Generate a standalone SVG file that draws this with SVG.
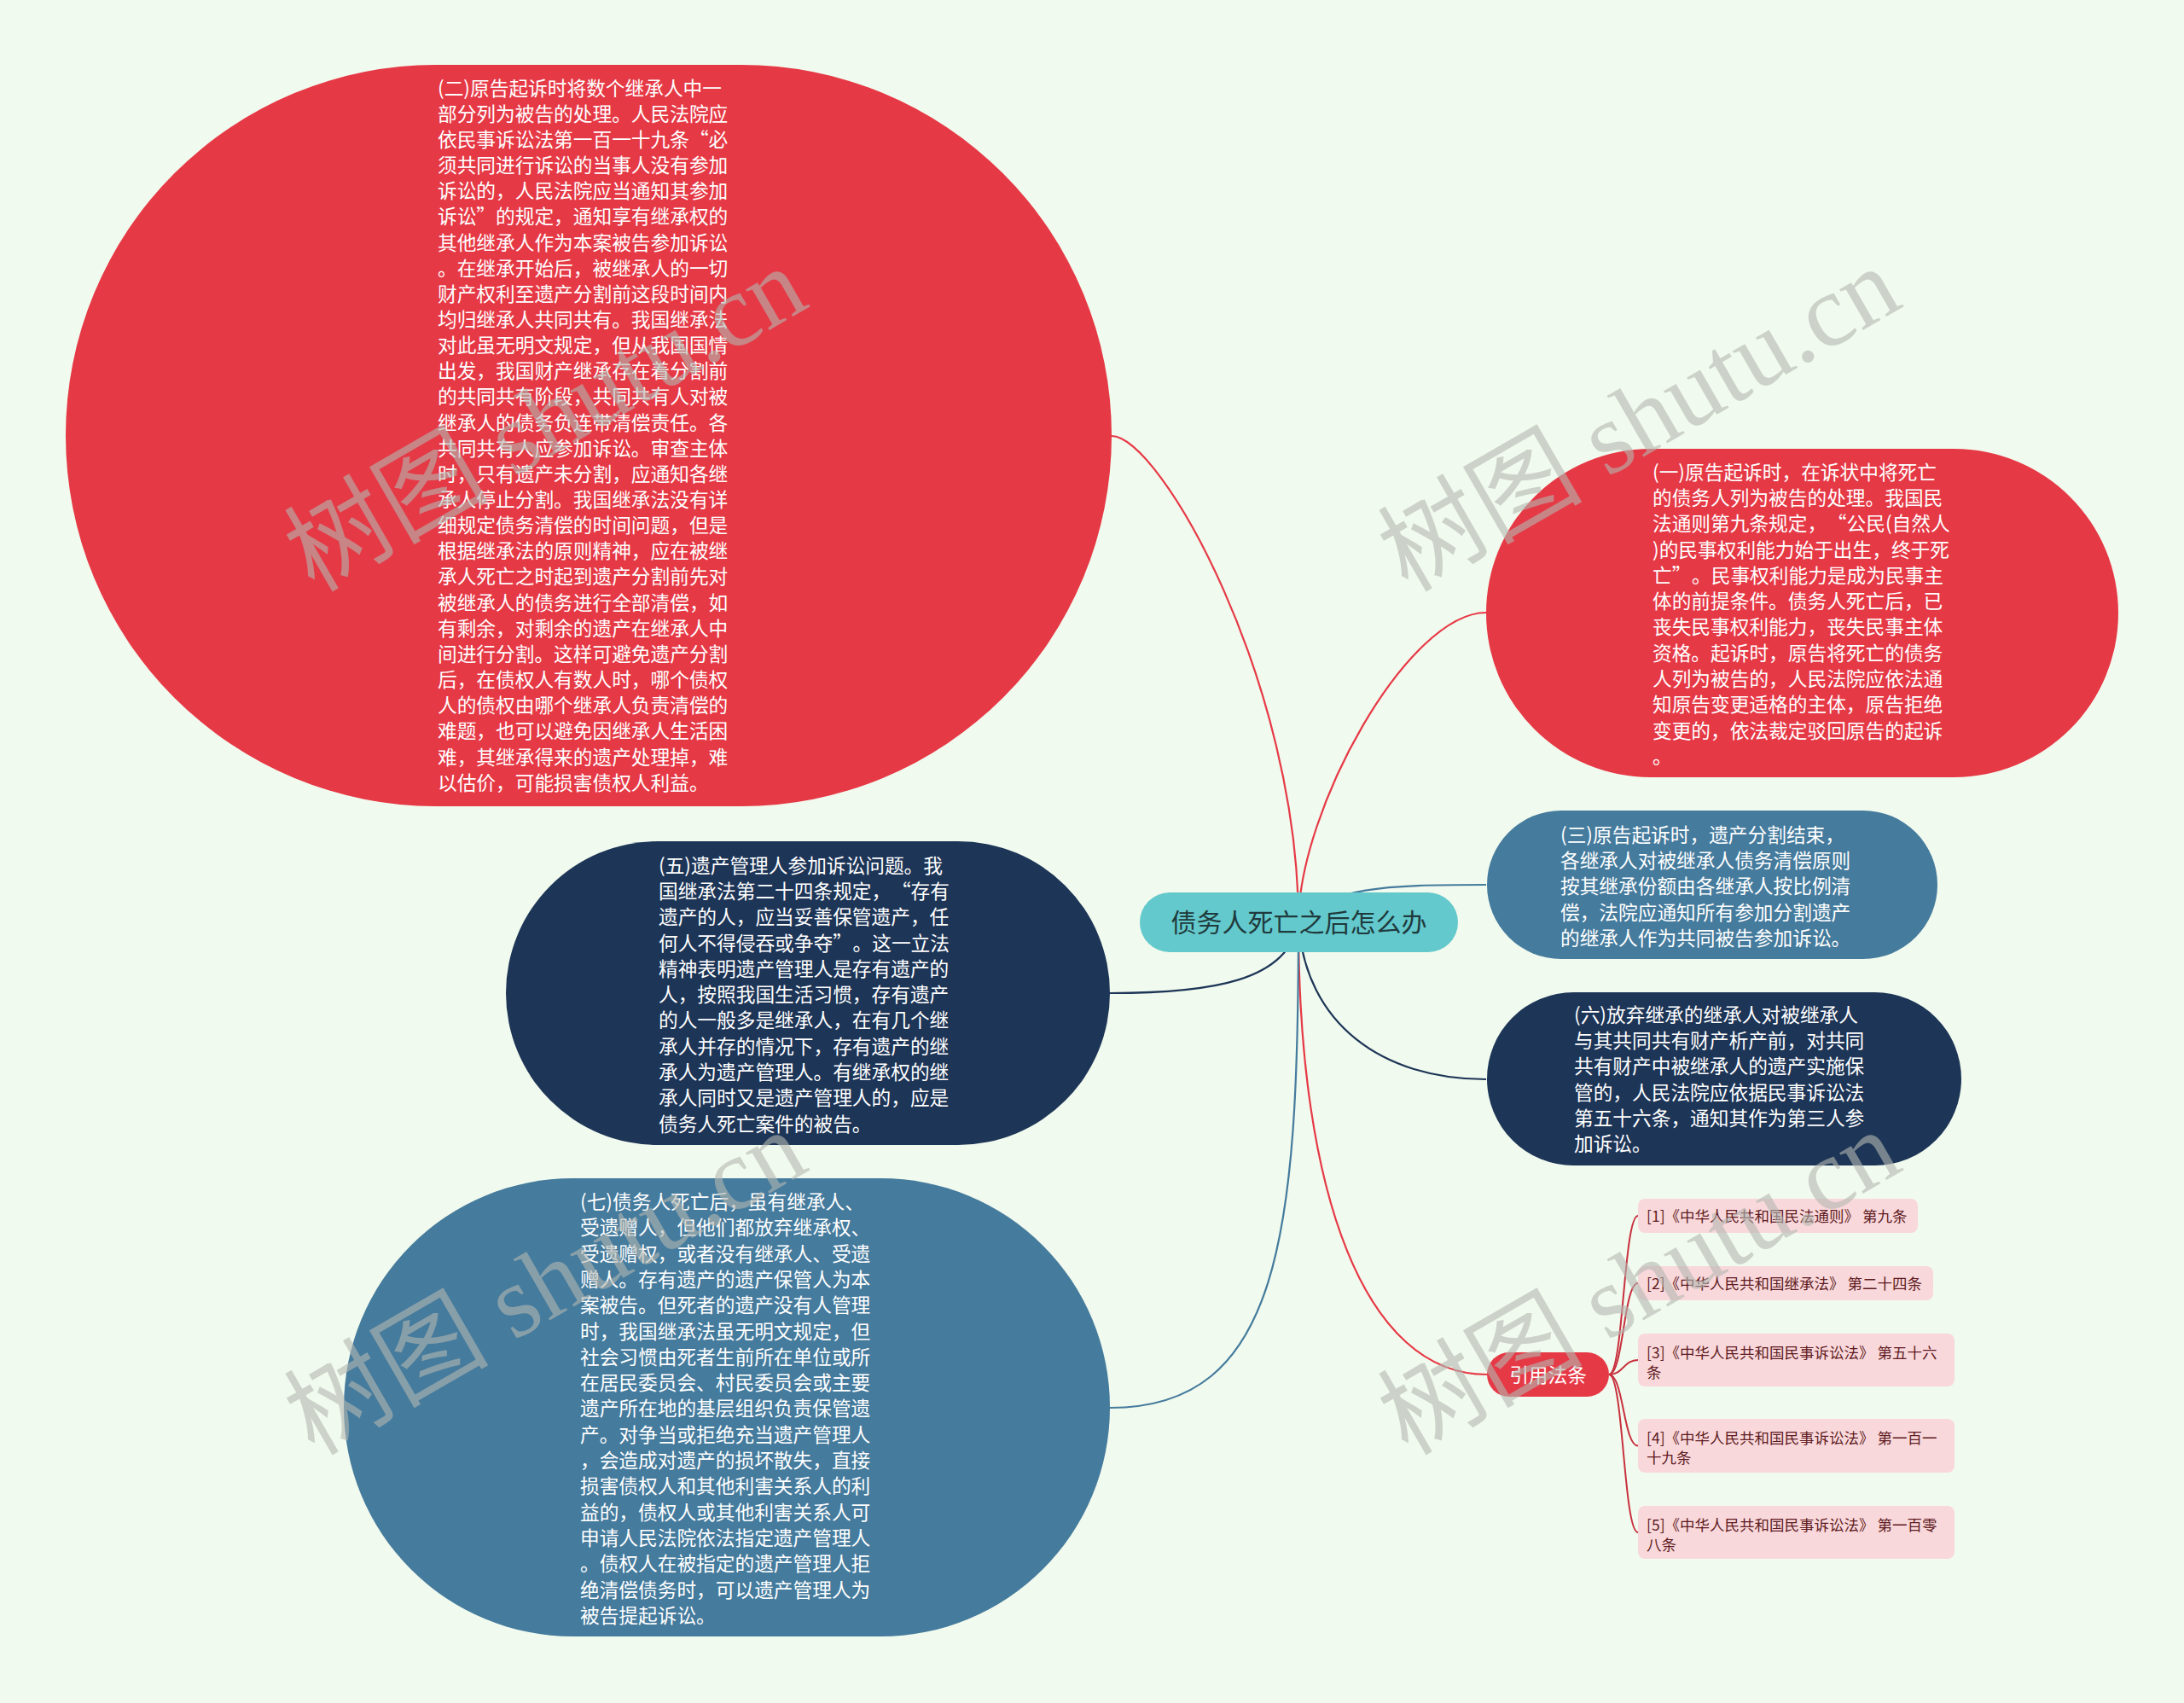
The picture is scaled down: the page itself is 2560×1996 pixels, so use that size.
<svg xmlns="http://www.w3.org/2000/svg" width="2560" height="1996" viewBox="0 0 2560 1996">
<style>
.bg{fill:#F1FAEE}
.red{fill:#E63946}
.navy{fill:#1D3557}
.blue{fill:#457B9D}
.root{fill:#63C9CC}
.ref{fill:#F9D8DB}
.t{font-family:"Noto Sans CJK SC","Noto Sans",sans-serif;font-size:22.7px;fill:#FFFFFF}
.rt{font-family:"Noto Sans CJK SC","Noto Sans",sans-serif;font-size:30px;fill:#1F3A3D;text-anchor:middle}
.ft{font-family:"Noto Sans CJK SC","Noto Sans",sans-serif;font-size:17.5px;fill:#5E1B22}
.c{fill:none;stroke-width:2.2}
.cr{stroke:#E63946}
.cn{stroke:#1D3557}
.cb{stroke:#457B9D}
.cf{fill:none;stroke:#C8303E;stroke-width:2}
.wm{font-family:"Liberation Serif","Noto Sans CJK SC",serif;font-size:120px;fill:#B4B8B2;opacity:0.6}
</style>
<rect class="bg" x="0" y="0" width="2560" height="1996"/>
<g id="connectors">
<path class="c cr" d="M1522,1081 C1522,800 1360,511 1303,511"/>
<path class="c cr" d="M1522,1081 C1522,950 1650,718 1742,718"/>
<path class="c cb" d="M1522,1081 C1560,1040 1620,1037 1742,1037"/>
<path class="c cn" d="M1522,1081 C1530,1200 1620,1265 1742,1265"/>
<path class="c cr" d="M1522,1081 C1522,1400 1600,1611 1743,1611"/>
<path class="c cn" d="M1522,1081 C1510,1150 1420,1164 1301,1164"/>
<path class="c cb" d="M1522,1081 C1522,1450 1500,1650 1301,1650"/>
<path class="cf" d="M1886,1611 C1903,1611 1903,1425 1920,1425"/>
<path class="cf" d="M1886,1611 C1903,1611 1903,1504 1920,1504"/>
<path class="cf" d="M1886,1611 C1903,1611 1903,1594 1920,1594"/>
<path class="cf" d="M1886,1611 C1903,1611 1903,1694.5 1920,1694.5"/>
<path class="cf" d="M1886,1611 C1903,1611 1903,1796 1920,1796"/>
</g>
<g id="root">
<rect class="root" x="1336" y="1046" width="373" height="70" rx="35"/>
<text class="rt" x="1522.5" y="1092">债务人死亡之后怎么办</text>
</g>
<g id="node2">
<rect class="red" x="77" y="76" width="1226" height="869" rx="434.5"/>
<text class="t" y="111.6">
<tspan x="513">(二)原告起诉时将数个继承人中一</tspan>
<tspan x="513" dy="30.15">部分列为被告的处理。人民法院应</tspan>
<tspan x="513" dy="30.15">依民事诉讼法第一百一十九条“必</tspan>
<tspan x="513" dy="30.15">须共同进行诉讼的当事人没有参加</tspan>
<tspan x="513" dy="30.15">诉讼的，人民法院应当通知其参加</tspan>
<tspan x="513" dy="30.15">诉讼”的规定，通知享有继承权的</tspan>
<tspan x="513" dy="30.15">其他继承人作为本案被告参加诉讼</tspan>
<tspan x="513" dy="30.15">。在继承开始后，被继承人的一切</tspan>
<tspan x="513" dy="30.15">财产权利至遗产分割前这段时间内</tspan>
<tspan x="513" dy="30.15">均归继承人共同共有。我国继承法</tspan>
<tspan x="513" dy="30.15">对此虽无明文规定，但从我国国情</tspan>
<tspan x="513" dy="30.15">出发，我国财产继承存在着分割前</tspan>
<tspan x="513" dy="30.15">的共同共有阶段，共同共有人对被</tspan>
<tspan x="513" dy="30.15">继承人的债务负连带清偿责任。各</tspan>
<tspan x="513" dy="30.15">共同共有人应参加诉讼。审查主体</tspan>
<tspan x="513" dy="30.15">时，只有遗产未分割，应通知各继</tspan>
<tspan x="513" dy="30.15">承人停止分割。我国继承法没有详</tspan>
<tspan x="513" dy="30.15">细规定债务清偿的时间问题，但是</tspan>
<tspan x="513" dy="30.15">根据继承法的原则精神，应在被继</tspan>
<tspan x="513" dy="30.15">承人死亡之时起到遗产分割前先对</tspan>
<tspan x="513" dy="30.15">被继承人的债务进行全部清偿，如</tspan>
<tspan x="513" dy="30.15">有剩余，对剩余的遗产在继承人中</tspan>
<tspan x="513" dy="30.15">间进行分割。这样可避免遗产分割</tspan>
<tspan x="513" dy="30.15">后，在债权人有数人时，哪个债权</tspan>
<tspan x="513" dy="30.15">人的债权由哪个继承人负责清偿的</tspan>
<tspan x="513" dy="30.15">难题，也可以避免因继承人生活困</tspan>
<tspan x="513" dy="30.15">难，其继承得来的遗产处理掉，难</tspan>
<tspan x="513" dy="30.15">以估价，可能损害债权人利益。</tspan>
</text>
</g>
<g id="node1">
<rect class="red" x="1742" y="526" width="741" height="385" rx="192.5"/>
<text class="t" y="561.6">
<tspan x="1937">(一)原告起诉时，在诉状中将死亡</tspan>
<tspan x="1937" dy="30.3">的债务人列为被告的处理。我国民</tspan>
<tspan x="1937" dy="30.3">法通则第九条规定，<tspan dx="12">“公民(自然人</tspan></tspan>
<tspan x="1937" dy="30.3">)的民事权利能力始于出生，终于死</tspan>
<tspan x="1937" dy="30.3">亡”<tspan dx="12">。民事权利能力是成为民事主</tspan></tspan>
<tspan x="1937" dy="30.3">体的前提条件。债务人死亡后，已</tspan>
<tspan x="1937" dy="30.3">丧失民事权利能力，丧失民事主体</tspan>
<tspan x="1937" dy="30.3">资格。起诉时，原告将死亡的债务</tspan>
<tspan x="1937" dy="30.3">人列为被告的，人民法院应依法通</tspan>
<tspan x="1937" dy="30.3">知原告变更适格的主体，原告拒绝</tspan>
<tspan x="1937" dy="30.3">变更的，依法裁定驳回原告的起诉</tspan>
<tspan x="1937" dy="30.3">。</tspan>
</text>
</g>
<g id="node3">
<rect class="blue" x="1743" y="950" width="528" height="174" rx="87"/>
<text class="t" y="986.6">
<tspan x="1829">(三)原告起诉时，遗产分割结束，</tspan>
<tspan x="1829" dy="30.3">各继承人对被继承人债务清偿原则</tspan>
<tspan x="1829" dy="30.3">按其继承份额由各继承人按比例清</tspan>
<tspan x="1829" dy="30.3">偿，法院应通知所有参加分割遗产</tspan>
<tspan x="1829" dy="30.3">的继承人作为共同被告参加诉讼。</tspan>
</text>
</g>
<g id="node6">
<rect class="navy" x="1743" y="1163" width="556" height="203" rx="101.5"/>
<text class="t" y="1197.6">
<tspan x="1845">(六)放弃继承的继承人对被继承人</tspan>
<tspan x="1845" dy="30.3">与其共同共有财产析产前，对共同</tspan>
<tspan x="1845" dy="30.3">共有财产中被继承人的遗产实施保</tspan>
<tspan x="1845" dy="30.3">管的，人民法院应依据民事诉讼法</tspan>
<tspan x="1845" dy="30.3">第五十六条，通知其作为第三人参</tspan>
<tspan x="1845" dy="30.3">加诉讼。</tspan>
</text>
</g>
<g id="node5">
<rect class="navy" x="593" y="986" width="708" height="356" rx="178"/>
<text class="t" y="1022.6">
<tspan x="772">(五)遗产管理人参加诉讼问题。我</tspan>
<tspan x="772" dy="30.3">国继承法第二十四条规定，<tspan dx="12">“存有</tspan></tspan>
<tspan x="772" dy="30.3">遗产的人，应当妥善保管遗产，任</tspan>
<tspan x="772" dy="30.3">何人不得侵吞或争夺”<tspan dx="12">。这一立法</tspan></tspan>
<tspan x="772" dy="30.3">精神表明遗产管理人是存有遗产的</tspan>
<tspan x="772" dy="30.3">人，按照我国生活习惯，存有遗产</tspan>
<tspan x="772" dy="30.3">的人一般多是继承人，在有几个继</tspan>
<tspan x="772" dy="30.3">承人并存的情况下，存有遗产的继</tspan>
<tspan x="772" dy="30.3">承人为遗产管理人。有继承权的继</tspan>
<tspan x="772" dy="30.3">承人同时又是遗产管理人的，应是</tspan>
<tspan x="772" dy="30.3">债务人死亡案件的被告。</tspan>
</text>
</g>
<g id="node7">
<rect class="blue" x="403" y="1381" width="898" height="537" rx="268.5"/>
<text class="t" y="1417">
<tspan x="680">(七)债务人死亡后，虽有继承人、</tspan>
<tspan x="680" dy="30.3">受遗赠人，但他们都放弃继承权、</tspan>
<tspan x="680" dy="30.3">受遗赠权，或者没有继承人、受遗</tspan>
<tspan x="680" dy="30.3">赠人。存有遗产的遗产保管人为本</tspan>
<tspan x="680" dy="30.3">案被告。但死者的遗产没有人管理</tspan>
<tspan x="680" dy="30.3">时，我国继承法虽无明文规定，但</tspan>
<tspan x="680" dy="30.3">社会习惯由死者生前所在单位或所</tspan>
<tspan x="680" dy="30.3">在居民委员会、村民委员会或主要</tspan>
<tspan x="680" dy="30.3">遗产所在地的基层组织负责保管遗</tspan>
<tspan x="680" dy="30.3">产。对争当或拒绝充当遗产管理人</tspan>
<tspan x="680" dy="30.3">，会造成对遗产的损坏散失，直接</tspan>
<tspan x="680" dy="30.3">损害债权人和其他利害关系人的利</tspan>
<tspan x="680" dy="30.3">益的，债权人或其他利害关系人可</tspan>
<tspan x="680" dy="30.3">申请人民法院依法指定遗产管理人</tspan>
<tspan x="680" dy="30.3">。债权人在被指定的遗产管理人拒</tspan>
<tspan x="680" dy="30.3">绝清偿债务时，可以遗产管理人为</tspan>
<tspan x="680" dy="30.3">被告提起诉讼。</tspan>
</text>
</g>
<g id="laws">
<rect class="red" x="1743" y="1585" width="143" height="52" rx="26"/>
<text class="t" x="1814.5" y="1619.6" text-anchor="middle">引用法条</text>
</g>
<g id="law1">
<rect class="ref" x="1920" y="1405" width="328" height="40" rx="8"/>
<text class="ft" x="1930" y="1431.6">[1]《中华人民共和国民法通则》 第九条</text>
</g>
<g id="law2">
<rect class="ref" x="1920" y="1484" width="346" height="40" rx="8"/>
<text class="ft" x="1930" y="1510.6">[2]《中华人民共和国继承法》 第二十四条</text>
</g>
<g id="law3">
<rect class="ref" x="1920" y="1563" width="371" height="62" rx="8"/>
<text class="ft" y="1591.6"><tspan x="1930">[3]《中华人民共和国民事诉讼法》 第五十六</tspan><tspan x="1930" dy="23">条</tspan></text>
</g>
<g id="law4">
<rect class="ref" x="1920" y="1663" width="371" height="63" rx="8"/>
<text class="ft" y="1692.1"><tspan x="1930">[4]《中华人民共和国民事诉讼法》 第一百一</tspan><tspan x="1930" dy="23">十九条</tspan></text>
</g>
<g id="law5">
<rect class="ref" x="1920" y="1765" width="371" height="62" rx="8"/>
<text class="ft" y="1793.6"><tspan x="1930">[5]《中华人民共和国民事诉讼法》 第一百零</tspan><tspan x="1930" dy="23">八条</tspan></text>
</g>
<g id="watermarks">
<text class="wm" x="368" y="695" transform="rotate(-30 368 695)">树图 shutu.cn</text>
<text class="wm" x="1650" y="695" transform="rotate(-30 1650 695)">树图 shutu.cn</text>
<text class="wm" x="368" y="1707" transform="rotate(-30 368 1707)">树图 shutu.cn</text>
<text class="wm" x="1650" y="1707" transform="rotate(-30 1650 1707)">树图 shutu.cn</text>
</g>
</svg>
